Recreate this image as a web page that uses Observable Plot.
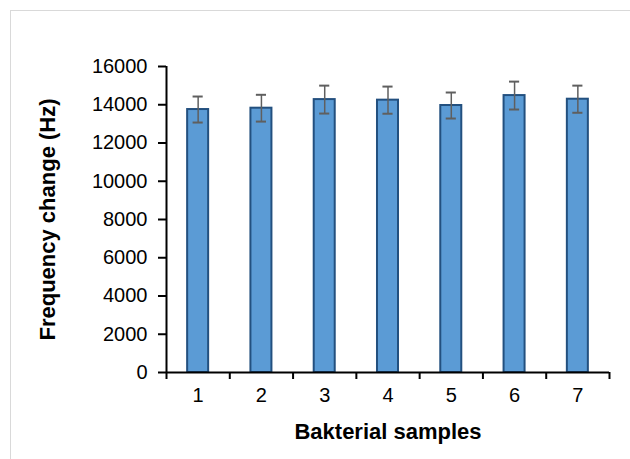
<!DOCTYPE html>
<html>
<head>
<meta charset="utf-8">
<script src="https://cdn.jsdelivr.net/npm/d3@7"></script>
<script src="https://cdn.jsdelivr.net/npm/@observablehq/plot@0.6"></script>
<style>
  html, body { margin: 0; padding: 0; background: #fff; }
  #wrap { position: relative; width: 630px; height: 459px; overflow: hidden; background: #fff; }
  #frame { position: absolute; left: 10px; top: 10px; width: 700px; height: 600px; border: 1px solid #d9d9d9; box-sizing: border-box; }
  #chart { position: absolute; left: 0; top: 0; }
  #chart svg { font-family: "Liberation Sans", Arial, sans-serif; }
</style>
</head>
<body>
<div id="wrap"><div id="frame"></div><div id="chart"></div></div>
<script>
const samples = [1, 2, 3, 4, 5, 6, 7];
const frequencyChange = [13750, 13820, 14270, 14240, 13960, 14480, 14290];
const errors = [680, 700, 730, 710, 680, 730, 710];
const yTicks = [0, 2000, 4000, 6000, 8000, 10000, 12000, 14000, 16000];
const xTitle = "Bakterial samples";
const yTitle = "Frequency change (Hz)";

const data = samples.map((s, i) => ({s, v: frequencyChange[i], e: errors[i]}));
const boundaries = samples.map(s => s - 0.5).concat([samples[samples.length - 1] + 0.5]);
const halfBar = 0.166, halfCap = 0.08;

const chart = Plot.plot({
  width: 630,
  height: 459,
  marginLeft: 166,
  marginRight: 21,
  marginTop: 66,
  marginBottom: 87,
  style: {fontFamily: '"Liberation Sans", Arial, sans-serif', background: "transparent"},
  x: {type: "linear", domain: [0.5, 7.5]},
  y: {domain: [0, 16000]},
  marks: [
    Plot.rectY(data, {x1: d => d.s - halfBar, x2: d => d.s + halfBar, y1: 0, y2: "v", fill: "#5b9bd5", stroke: "#23507f", strokeWidth: 2}),
    Plot.ruleX(data, {x: "s", y1: d => d.v - d.e, y2: d => d.v + d.e, stroke: "#5f5f5f", strokeWidth: 1.5}),
    Plot.ruleY(data, {y: d => d.v + d.e, x1: d => d.s - halfCap, x2: d => d.s + halfCap, stroke: "#5f5f5f", strokeWidth: 2}),
    Plot.ruleY(data, {y: d => d.v - d.e, x1: d => d.s - halfCap, x2: d => d.s + halfCap, stroke: "#5f5f5f", strokeWidth: 2}),
    Plot.axisY({ticks: yTicks, tickFormat: d => String(d), tickSize: 8, tickPadding: 11, fontSize: 20, stroke: "black", strokeWidth: 2, color: "#000", label: null}),
    Plot.axisX({ticks: boundaries, tickFormat: () => "", tickSize: 7, stroke: "black", strokeWidth: 2, label: null}),
    Plot.axisX({ticks: samples, tickFormat: d => String(d), tickSize: 0, tickPadding: 15, fontSize: 20, color: "#000", label: null}),
    Plot.ruleX([0.5], {stroke: "black", strokeWidth: 2}),
    Plot.ruleY([0], {stroke: "black", strokeWidth: 2}),
    Plot.text([yTitle], {frameAnchor: "left", textAnchor: "middle", rotate: -90, dx: -119, fontWeight: "bold", fontSize: 22, fill: "#000"}),
    Plot.text([xTitle], {frameAnchor: "bottom", textAnchor: "middle", dy: 66, fontWeight: "bold", fontSize: 22, fill: "#000"})
  ]
});
document.getElementById("chart").appendChild(chart);
</script>
</body>
</html>
